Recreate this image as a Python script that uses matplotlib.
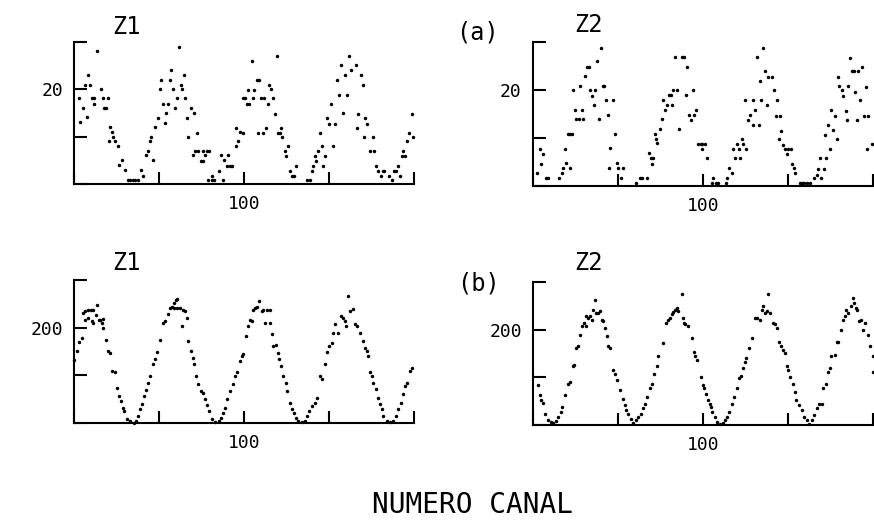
import numpy as np
import matplotlib
matplotlib.use("Agg")
import matplotlib.pyplot as plt

plt.rcParams["font.family"] = ["DejaVu Sans Mono", "DejaVu Sans"]

# (a) Z1 - canal / cuentas
z1a_ch = [51.6, 51.8, 52.5, 53.2, 53.7, 54.2, 54.7, 55.3, 55.9, 55.9, 56.9, 57.8, 58.4, 58.9, 59.4,
          59.9, 60.4, 60.6, 61.1, 61.6, 62.1, 62.8, 63.2, 64.0, 65.0, 66.0, 66.5, 67.3, 68.0, 68.8,
          69.6, 70.4, 71.2, 71.8, 72.2, 72.7, 73.1, 73.8, 74.6, 75.3, 75.7, 76.3, 76.9, 77.1, 77.7,
          78.2, 78.6, 79.2, 79.8, 80.2, 80.8, 81.4, 81.8, 82.4, 82.7, 83.1, 83.6, 84.3, 84.9, 85.3,
          85.6, 86.3, 86.6, 87.3, 87.8, 88.0, 88.5, 89.0, 89.7, 89.5, 90.5, 91.2, 90.5, 92.6, 93.1,
          93.7, 94.2, 94.9, 95.4, 95.9, 96.5, 97.5, 97.6, 98.3, 98.8, 99.8,
          99.6, 100.2, 100.8, 101.1, 101.5, 102.2, 102.7, 102.9, 103.7, 104.2, 104.5, 105.1, 105.5,
          105.9, 106.4, 107.0, 107.4, 108.0, 108.4, 109.1, 109.6, 110.1, 110.6, 111.0, 111.3, 112.0,
          112.3, 113.0, 113.5, 114.2, 114.8, 115.3, 118.4, 119.4, 119.9, 120.4, 120.9, 121.3, 121.8,
          122.3, 122.8, 123.3, 123.8, 124.3, 124.9, 125.7, 126.3, 126.7, 127.4, 127.9, 128.4, 129.0,
          129.7, 130.4, 131.0, 131.6, 132.9, 133.3, 133.6, 134.3, 134.9, 135.3, 135.6, 136.1, 137.2,
          137.8, 138.2, 138.8, 139.5, 140.2, 140.8, 141.2, 142.7, 143.4, 144.1, 144.7, 145.4, 145.9,
          146.4, 146.8, 147.3, 147.8, 148.6, 149.3, 149.8]
z1a_cnt = [18.1, 13.1, 16.1, 20.9, 14.1, 23, 20.9, 18.1, 18.1, 17, 28.1, 20, 18.1, 16.1, 16.1,
           18.1, 9, 12.1, 11, 10, 9, 8, 4, 5, 3, 0.8, 0.8, 0.8, 0.8, 0.8,
           3, 1.8, 6.1, 7, 9, 10, 5, 12.1, 14, 20, 22, 17, 13, 15, 17,
           22, 24.1, 20, 16.1, 18.1, 29, 20.9, 20, 23, 18.1, 14, 10, 16.1, 6.1, 15,
           7, 10.9, 7, 4.9, 4.9, 7, 6.1, 7, 7, 0.8, 0.8, 0.8, 1.8, 2.8, 6.1,
           0.8, 5, 3.8, 6.1, 3.8, 3.8, 11.8, 8, 9, 11, 18.1,
           10.8, 18.1, 17, 19.9, 17, 26, 18.1, 19.9, 22, 10.8, 22, 18.1, 10.8,
           18.1, 11.8, 17, 20.9, 20, 18.1, 14.9, 27, 10.8, 10.8, 11.8, 10, 7,
           5.9, 8, 2.8, 1.8, 1.8, 3.8, 0.8, 0.8, 2.8, 3.8, 5.9, 4.9, 7,
           10.8, 8, 3.8, 5.9, 14, 12.8, 17, 8, 12.8, 22, 18.9, 25.1, 15.1,
           23, 18.9, 27, 24.1, 25.1, 11.8, 14.9, 23, 20.9, 10, 14, 12.8, 7,
           10, 7, 3.8, 2.8, 1.8, 2.8, 2.8, 1.8, 0.8, 2.8, 2.8, 3.8, 1.8,
           5.9, 7, 5.9, 9, 10.8, 14.9, 10]

# (a) Z2
z2a_ch = [51.3, 52.1, 52.5, 53.0, 53.8, 54.5, 57.7, 58.5, 58.9, 59.4, 59.7, 60.9, 60.4, 60.9, 61.4,
          61.9, 62.4, 62.8, 63.6, 63.8, 64.3, 64.8, 65.3, 66.0, 66.6, 66.8, 67.4, 67.9, 68.2, 68.9,
          69.5, 69.9, 70.5, 70.9, 71.5, 72.0, 72.5, 72.8, 73.4, 74.1, 74.6, 75.1, 76.6, 75.8, 80.3,
          81.5, 82.0, 83.4, 84.2, 84.6, 85.4, 84.9, 85.9, 86.2, 86.6, 87.4, 87.9, 88.3, 88.8, 89.3,
          90.1, 90.6, 90.8, 91.3, 92.3, 91.9, 93.0, 93.7, 94.4, 95.0, 95.4, 96.0, 96.4, 97.0, 97.4,
          97.9, 98.6, 99.3,
          99.6, 100.6, 99.6, 101.1, 102.8, 103.0, 103.8, 104.5, 106.7, 107.2, 107.7, 108.4, 108.9,
          109.4, 110.9, 109.9, 110.7, 111.4, 111.8, 112.8, 112.3, 113.3, 113.8, 114.6, 114.8, 115.3,
          116.0, 116.5, 116.7, 117.2, 117.7, 118.3, 118.9, 119.2, 120.2, 120.9, 121.8, 121.5, 122.6,
          123.1, 122.4, 123.4, 124.1, 124.6, 125.1, 125.8, 126.2, 126.7, 127.0, 128.5, 129.0, 129.7,
          130.5, 131.5, 132.6, 133.4, 133.9, 134.4, 136.2, 134.6, 135.6, 135.9, 136.8, 137.5, 137.8,
          138.3, 138.8, 139.3, 139.8, 140.1, 140.8, 141.3, 142.0, 142.4, 142.7, 143.2, 143.7, 144.4,
          144.7, 145.2, 145.7, 146.2, 146.9, 147.3, 148.6, 147.9, 148.3, 149.6]
z2a_cnt = [2.7, 7.7, 4.6, 6.6, 1.7, 1.7, 1.7, 2.7, 3.8, 7.7, 4.9, 3.8, 10.8, 10.8, 10.8,
           20, 15.9, 14, 14, 20.8, 15.9, 14, 23, 24.9, 24.9, 20, 18.7, 17, 20, 26,
           14, 28.8, 20.8, 20.8, 17.9, 14.9, 3.8, 7.9, 17.9, 10.8, 4.9, 3.8, 3.8, 1.7, 0.6,
           1.7, 1.7, 1.7, 7, 5.9, 5.9, 4.6, 10.8, 9.8, 8.9, 11.9, 14, 17.9, 15.9, 16.8,
           18.9, 18.9, 16.8, 20, 20, 26.9, 11.9, 26.9, 26.9, 18.9, 24.8, 14.9, 13.8, 20, 14.9,
           15.9, 8.7, 8.7,
           8.7, 8.7, 7.7, 5.8, 0.6, 1.7, 0.6, 0.6, 0.6, 1.7, 3.8, 2.7, 7.7,
           5.8, 5.8, 8.7, 7.7, 9.8, 8.7, 7.7, 17.9, 13.8, 14.9, 12.8, 17.9, 15.9,
           26.9, 12.8, 21.8, 17.9, 28.8, 23.9, 16.8, 22.8, 22.8, 20, 17.9, 14.7, 14.7,
           11.5, 9.8, 8.6, 7.7, 6.6, 7.7, 7.7, 4.6, 3.8, 2.7, 0.6, 0.6, 0.6,
           0.6, 0.6, 1.7, 2.4, 3.5, 5.8, 5.8, 1.7, 3.5, 10.7, 12.8, 7.7, 15.9,
           11.7, 14.7, 9.8, 22.8, 20.8, 20, 18.7, 15.6, 13.8, 20.8, 26.7, 23.9, 23.9,
           19.6, 13.8, 23.9, 17.9, 24.8, 14.7, 14.7, 20.7, 7.7, 8.7]

# (b) Z1
z1b_ch = [50.0, 51.0, 51.6, 52.3, 52.7, 53.2, 54.2, 54.9, 55.7, 56.7, 53.2, 54.2, 55.2, 55.7, 56.5,
          57.2, 57.6, 58.1, 58.6, 58.4, 59.4, 60.1, 60.6, 61.1, 62.1, 62.7, 63.3, 63.7, 64.3, 64.7,
          65.7, 66.5, 67.5, 68.2, 68.9, 69.4, 69.9, 70.6, 71.2, 71.9, 72.4, 73.1, 73.8, 74.5, 75.3,
          76.3, 76.8, 77.5, 78.2, 78.7, 79.4, 80.0, 80.4, 79.4, 80.2, 81.2, 82.0, 82.6, 81.7, 83.1,
          83.6, 84.3, 84.9, 85.3, 85.9, 86.6, 87.3, 88.0, 88.5, 89.0, 89.8, 90.5, 91.5, 92.5, 93.1,
          93.7, 94.4, 95.1, 95.9, 96.7, 97.4, 98.0, 98.8, 99.3, 99.8, 100.6, 101.3, 101.8, 102.3,
          102.7, 103.2, 103.7, 104.5, 105.2, 105.7, 106.2, 106.7, 107.5, 107.6, 108.1, 108.6, 109.4,
          110.1, 110.4, 110.8, 111.6, 112.4, 112.7, 113.5, 114.0, 114.7, 115.3, 116.0, 117.0, 117.9,
          118.4, 119.2, 119.9, 120.9, 121.6, 122.4, 122.8, 123.8, 124.5, 125.1, 125.8, 126.3, 126.8,
          127.7, 128.4, 129.2, 129.7, 130.0, 130.7, 131.2, 132.0, 132.6, 133.3, 134.1, 134.9, 135.6,
          136.1, 136.6, 137.1, 137.5, 138.0, 138.8, 139.5, 140.0, 140.5, 141.0, 142.0, 142.9, 143.9,
          144.7, 145.4, 146.1, 146.7, 147.4, 148.0, 148.8, 149.3]
z1b_cnt = [133, 151, 170, 179, 231, 235, 238, 238, 238, 247, 217, 221, 214, 210, 226,
           217, 217, 210, 219, 200, 175, 151, 147, 109, 106, 74, 57, 46, 32, 25,
           9, 4, 1, 4, 15, 29, 39, 57, 69, 85, 99, 123, 134, 149, 175,
           210, 214, 228, 242, 244, 252, 258, 261, 242, 242, 242, 238, 235, 203, 221,
           172, 151, 137, 123, 99, 81, 67, 64, 51, 37, 25, 8, 2, 4, 11,
           22, 32, 50, 67, 81, 99, 106, 130, 140, 144, 182, 203, 217, 214,
           238, 242, 244, 256, 235, 238, 210, 238, 237, 210, 186, 161, 163,
           147, 134, 120, 99, 85, 67, 43, 30, 22, 11, 4, 2, 4,
           15, 25, 36, 43, 53, 99, 92, 123, 149, 161, 168, 189, 207,
           189, 224, 221, 214, 203, 266, 235, 240, 207, 203, 189, 172, 158,
           151, 140, 106, 99, 85, 71, 53, 39, 29, 15, 4, 2, 4,
           15, 29, 43, 60, 78, 85, 109, 116]

# (b) Z2
z2b_ch = [51.6, 52.1, 52.5, 53.0, 53.5, 54.5, 55.2, 56.0, 56.8, 57.5, 58.1, 58.6, 59.4, 60.4, 60.9,
          61.7, 62.2, 62.8, 63.3, 63.8, 64.3, 65.0, 65.6, 65.6, 66.3, 66.8, 67.3, 68.2, 67.7, 68.5,
          69.2, 69.7, 70.2, 70.7, 71.2, 71.7, 72.2, 72.6, 73.6, 74.1, 74.8, 75.6, 76.4, 77.1, 77.5,
          78.0, 78.7, 79.5, 80.3, 81.0, 81.7, 82.5, 82.9, 83.6, 84.4, 84.9, 85.6, 86.4, 86.9, 88.3,
          89.1, 89.8, 90.3, 90.8, 91.3, 91.8, 92.3, 92.7, 93.7, 94.0, 94.4, 94.7, 95.7, 96.7, 97.4,
          97.6, 98.3, 99.3, 99.9, 100.3, 100.9, 101.6, 102.1, 102.5, 102.8, 103.5, 104.2, 105.0,
          105.8, 106.5, 107.2, 107.7, 108.4, 109.1, 109.9, 110.7, 111.1, 111.7, 112.4, 112.8, 113.6,
          114.3, 115.3, 115.8, 116.8, 117.3, 117.7, 118.2, 118.7, 119.2, 119.7, 120.5, 121.2, 121.7,
          122.5, 123.1, 123.6, 124.1, 124.8, 125.1, 125.6, 126.4, 127.1, 127.5, 128.3, 129.0, 129.7,
          130.5, 131.3, 132.0, 132.6, 133.4, 134.2, 134.9, 135.4, 136.2, 136.9, 137.4, 137.8, 138.8,
          139.3, 139.8, 140.5, 141.3, 141.8, 142.1, 142.7, 143.4, 144.0, 144.4, 145.0, 145.4, 146.0,
          146.4, 147.0, 147.6, 148.6, 149.1, 149.9, 150.1]
z2b_cnt = [84, 63, 52, 46, 24, 10, 6, 4, 8, 17, 27, 38, 63, 87, 91,
           123, 126, 161, 165, 189, 207, 214, 208, 228, 225, 228, 221, 263, 242, 235,
           235, 239, 221, 218, 204, 186, 165, 161, 115, 108, 94, 73, 54, 42, 31,
           24, 13, 4, 10, 17, 24, 35, 45, 59, 77, 87, 107, 123, 145, 172,
           214, 221, 225, 232, 237, 242, 246, 239, 274, 225, 214, 211, 207, 182, 154,
           144, 137, 101, 84, 77, 66, 52, 45, 37, 27, 17, 6, 3,
           4, 10, 17, 27, 45, 59, 77, 98, 103, 119, 133, 140, 161,
           182, 225, 225, 221, 242, 249, 235, 239, 274, 235, 214, 211, 204,
           175, 165, 158, 151, 123, 115, 101, 87, 70, 52, 42, 31, 17,
           10, 3, 10, 20, 35, 45, 45, 77, 87, 112, 119, 144, 147,
           175, 175, 200, 221, 228, 242, 235, 249, 267, 256, 246, 242, 218,
           221, 200, 214, 189, 165, 144, 112]

fig = plt.figure(figsize=(8.74, 5.2), dpi=100)

panels = [
    ([0.0847, 0.646, 0.389, 0.273], z1a_ch, z1a_cnt, 30, "20"),
    ([0.6098, 0.642, 0.389, 0.277], z2a_ch, z2a_cnt, 30, "20"),
    ([0.0847, 0.1865, 0.389, 0.275], z1b_ch, z1b_cnt, 300, "200"),
    ([0.6098, 0.1827, 0.389, 0.275], z2b_ch, z2b_cnt, 300, "200"),
]

for rect, ch, cnt, ymax, ylab in panels:
    ax = fig.add_axes(rect)
    ax.plot(ch, cnt, "o", ms=2.5, mew=0, color="black", clip_on=False)
    ax.set_xlim(50, 150)
    ax.set_ylim(0, ymax)
    for s in ["top", "right"]:
        ax.spines[s].set_visible(False)
    for s in ["left", "bottom"]:
        ax.spines[s].set_linewidth(1.5)
    ax.set_xticks([50, 75, 100, 125, 150])
    ax.set_xticklabels(["", "", "100", "", ""])
    ax.set_yticks(np.linspace(0, ymax, 4))
    ax.set_yticklabels(["", "", ylab, ""])
    ax.tick_params(direction="in", length=9, width=1.5, labelsize=13, pad=8)

fig.text(0.145, 0.948, "Z1", fontsize=17, ha="center", va="center")
fig.text(0.673, 0.952, "Z2", fontsize=17, ha="center", va="center")
fig.text(0.546, 0.937, "(a)", fontsize=17, ha="center", va="center")
fig.text(0.145, 0.494, "Z1", fontsize=17, ha="center", va="center")
fig.text(0.673, 0.494, "Z2", fontsize=17, ha="center", va="center")
fig.text(0.547, 0.454, "(b)", fontsize=17, ha="center", va="center")
fig.text(0.541, 0.029, "NUMERO CANAL", fontsize=20, ha="center", va="center")

fig.savefig("out.png", dpi=100)
